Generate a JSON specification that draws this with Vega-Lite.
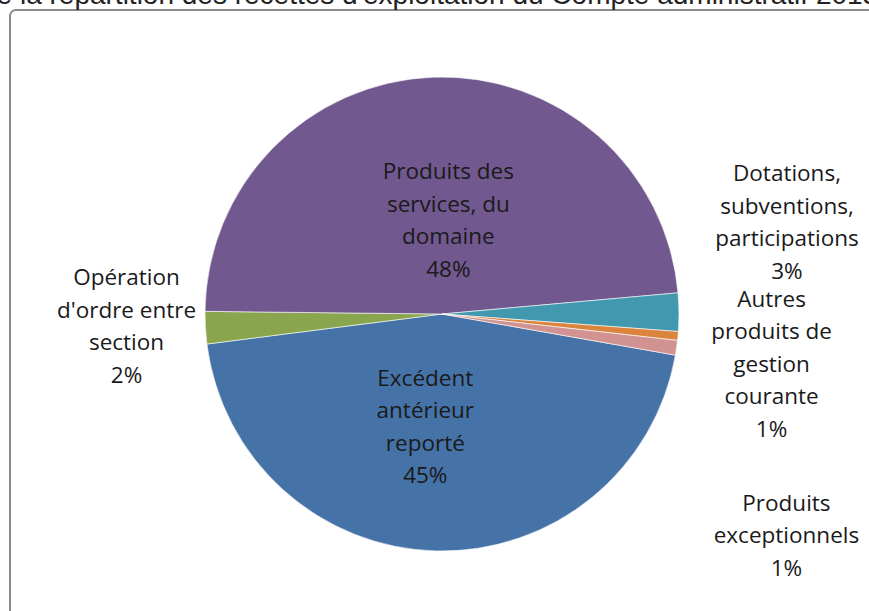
{
  "$schema": "https://vega.github.io/schema/vega-lite/v6.json",
  "width": 864,
  "height": 608,
  "autosize": {"type": "none"},
  "padding": {"left": 10, "top": 10, "right": -5, "bottom": -7},
  "background": "white",
  "config": {
    "view": {"stroke": null},
    "text": {"font": "Open Sans", "fontSize": 22.5, "color": "#1a1a1a", "lineHeight": 32.5, "lineBreak": "\n", "align": "center", "baseline": "middle"}
  },
  "title": {
    "text": "de la répartition des recettes d'exploitation du Compte administratif 2013",
    "anchor": "start",
    "frame": "group",
    "dx": -29,
    "offset": -23,
    "baseline": "alphabetic",
    "font": "Liberation Sans",
    "fontSize": 28,
    "fontWeight": "normal",
    "color": "#222222"
  },
  "data": {
    "values": [
      {"cat": "Excédent antérieur reporté", "ord": 1, "value": 45.2, "label": "Excédent\nantérieur\nreporté\n45%"},
      {"cat": "Opération d'ordre entre section", "ord": 2, "value": 2.2, "label": "Opération\nd'ordre entre\nsection\n2%"},
      {"cat": "Produits des services, du domaine", "ord": 3, "value": 48.4, "label": "Produits des\nservices, du\ndomaine\n48%"},
      {"cat": "Dotations, subventions, participations", "ord": 4, "value": 2.6, "label": "Dotations,\nsubventions,\nparticipations\n3%"},
      {"cat": "Autres produits de gestion courante", "ord": 5, "value": 0.6, "label": "Autres\nproduits de\ngestion\ncourante\n1%"},
      {"cat": "Produits exceptionnels", "ord": 6, "value": 1.0, "label": "Produits\nexceptionnels\n1%"}
    ]
  },
  "layer": [
    {
      "data": {"values": [{}]},
      "mark": {"type": "rect", "filled": false, "stroke": "#8c8c8c", "strokeWidth": 2, "cornerRadius": 6},
      "encoding": {}
    },
    {
      "mark": {"type": "arc", "radius": 237, "stroke": "#ffffff", "strokeWidth": 0.6},
      "encoding": {
        "theta": {"field": "value", "type": "quantitative", "stack": true, "scale": {"domain": [0, 100], "range": [1.7453, 8.0285]}},
        "order": {"field": "ord", "type": "quantitative"},
        "color": {
          "field": "cat",
          "type": "nominal",
          "legend": null,
          "scale": {
            "domain": ["Excédent antérieur reporté", "Opération d'ordre entre section", "Produits des services, du domaine", "Dotations, subventions, participations", "Autres produits de gestion courante", "Produits exceptionnels"],
            "range": ["#4572A7", "#89A54E", "#71588F", "#4198AF", "#DB843D", "#D19392"]
          }
        }
      }
    },
    {
      "transform": [
        {"stack": "value", "groupby": [], "sort": [{"field": "ord", "order": "ascending"}], "as": ["v0", "v1"]},
        {"calculate": "(datum.v0 + datum.v1) / 2", "as": "mid"},
        {"filter": "datum.ord === 1"}
      ],
      "mark": {"type": "text", "radius": 114, "dx": -14, "dy": -49},
      "encoding": {"theta": {"field": "mid", "type": "quantitative", "stack": null}, "text": {"field": "label"}}
    },
    {
      "transform": [
        {"stack": "value", "groupby": [], "sort": [{"field": "ord", "order": "ascending"}], "as": ["v0", "v1"]},
        {"calculate": "(datum.v0 + datum.v1) / 2", "as": "mid"},
        {"filter": "datum.ord === 2"}
      ],
      "mark": {"type": "text", "radius": 316, "dy": -54},
      "encoding": {"theta": {"field": "mid", "type": "quantitative", "stack": null}, "text": {"field": "label"}}
    },
    {
      "transform": [
        {"stack": "value", "groupby": [], "sort": [{"field": "ord", "order": "ascending"}], "as": ["v0", "v1"]},
        {"calculate": "(datum.v0 + datum.v1) / 2", "as": "mid"},
        {"filter": "datum.ord === 3"}
      ],
      "mark": {"type": "text", "radius": 93, "dx": 10, "dy": -49},
      "encoding": {"theta": {"field": "mid", "type": "quantitative", "stack": null}, "text": {"field": "label"}}
    },
    {
      "transform": [
        {"stack": "value", "groupby": [], "sort": [{"field": "ord", "order": "ascending"}], "as": ["v0", "v1"]},
        {"calculate": "(datum.v0 + datum.v1) / 2", "as": "mid"},
        {"filter": "datum.ord === 4"}
      ],
      "mark": {"type": "text", "radius": 345, "dy": -137},
      "encoding": {"theta": {"field": "mid", "type": "quantitative", "stack": null}, "text": {"field": "label"}}
    },
    {
      "transform": [
        {"stack": "value", "groupby": [], "sort": [{"field": "ord", "order": "ascending"}], "as": ["v0", "v1"]},
        {"calculate": "(datum.v0 + datum.v1) / 2", "as": "mid"},
        {"filter": "datum.ord === 5"}
      ],
      "mark": {"type": "text", "radius": 331, "dy": -45},
      "encoding": {"theta": {"field": "mid", "type": "quantitative", "stack": null}, "text": {"field": "label"}}
    },
    {
      "transform": [
        {"stack": "value", "groupby": [], "sort": [{"field": "ord", "order": "ascending"}], "as": ["v0", "v1"]},
        {"calculate": "(datum.v0 + datum.v1) / 2", "as": "mid"},
        {"filter": "datum.ord === 6"}
      ],
      "mark": {"type": "text", "radius": 348, "dy": 140},
      "encoding": {"theta": {"field": "mid", "type": "quantitative", "stack": null}, "text": {"field": "label"}}
    }
  ]
}
